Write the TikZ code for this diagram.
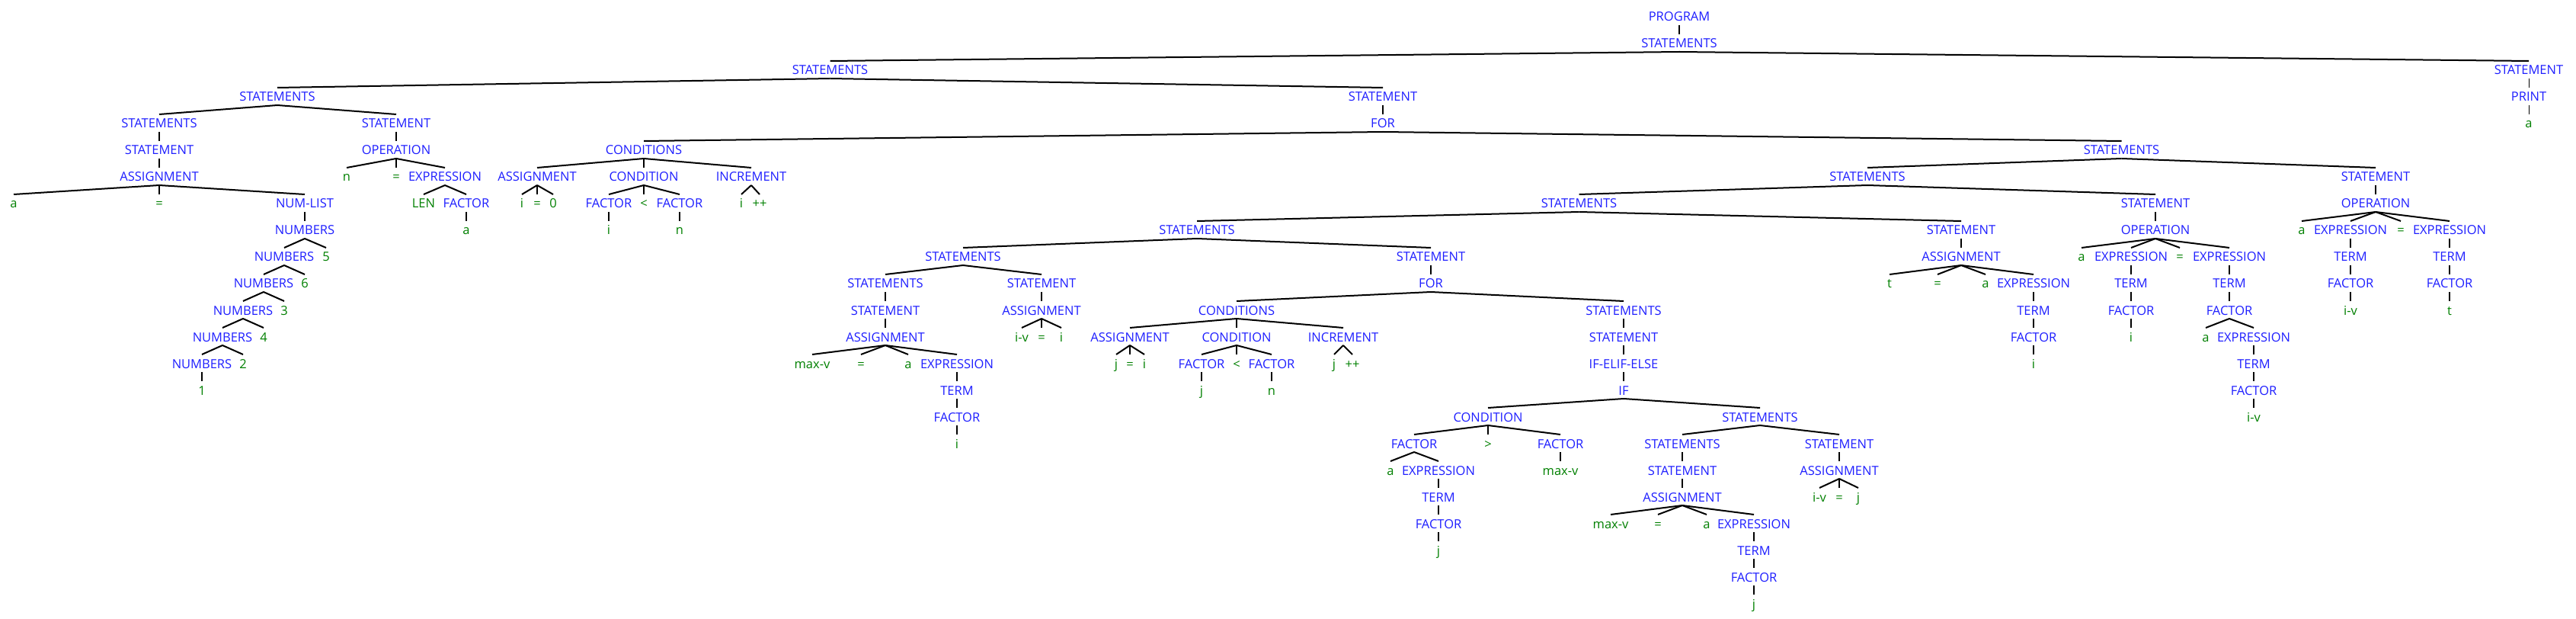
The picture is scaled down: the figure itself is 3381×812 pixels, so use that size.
\documentclass[tikz,border=0pt]{standalone}
\usepackage{fontspec}
\setmainfont{Open Sans}
\definecolor{ntc}{RGB}{30,30,255}
\definecolor{tmc}{RGB}{0,128,0}
\tikzset{
  lab/.style={inner sep=0pt, outer sep=0pt, anchor=base, text height=9pt, text depth=2.5pt, font=\fontsize{8.25pt}{10pt}\selectfont},
  nt/.style={lab, text=ntc},
  tm/.style={lab, text=tmc},
  edge/.style={line width=1pt, black},
  vedge/.style={line width=0.55pt, black}
}
\newcommand\PNT[4]{\node[nt] (#1) at (#2,{28+35*#3}) {#4};}
\newcommand\PTM[4]{\node[tm] (#1) at (#2,{28+35*#3}) {#4};}
\newcommand\EdgeS[2]{\draw[edge] (#1.south) -- (#2.north);}
\newcommand\EdgeV[2]{\draw[vedge] (#1.south) -- (#2.north);}
\begin{document}
\begin{tikzpicture}[x=0.5pt,y=-0.5pt]
\fill[white] (0,0) rectangle (3381,812);
\useasboundingbox (0,0) rectangle (3381,812);
% top
\PNT{prog}{2204}{0}{PROGRAM}
\PNT{s1}{2204}{1}{STATEMENTS}
\PNT{s2}{1089.5}{2}{STATEMENTS}
\PNT{pst}{3319}{2}{STATEMENT}
\PNT{ppr}{3319}{3}{PRINT}
\PTM{pa}{3319}{4}{a}
\PNT{s3}{364}{3}{STATEMENTS}
\PNT{for1st}{1815}{3}{STATEMENT}
\PNT{for1}{1815}{4}{FOR}
% left assignment
\PNT{s4}{209}{4}{STATEMENTS}
\PNT{st5}{209}{5}{STATEMENT}
\PNT{as6}{209}{6}{ASSIGNMENT}
\PTM{a7}{18}{7}{a}
\PTM{eq7}{209}{7}{=}
\PNT{nl7}{400}{7}{NUM-LIST}
\PNT{nb8}{400}{8}{NUMBERS}
\PNT{nb9}{373}{9}{NUMBERS}
\PTM{five}{428}{9}{5}
\PNT{nb10}{346}{10}{NUMBERS}
\PTM{six}{400}{10}{6}
\PNT{nb11}{319}{11}{NUMBERS}
\PTM{three}{373}{11}{3}
\PNT{nb12}{292}{12}{NUMBERS}
\PTM{four}{346}{12}{4}
\PNT{nb13}{265}{13}{NUMBERS}
\PTM{two}{319}{13}{2}
\PTM{one}{265}{14}{1}
% n = len a
\PNT{opst}{520}{4}{STATEMENT}
\PNT{op5}{520}{5}{OPERATION}
\PTM{n6}{455}{6}{n}
\PTM{eq6}{520}{6}{=}
\PNT{ex6}{584}{6}{EXPRESSION}
\PTM{len7}{556}{7}{LEN}
\PNT{fa7}{612}{7}{FACTOR}
\PTM{a8}{612}{8}{a}
% outer for conditions
\PNT{c5}{845}{5}{CONDITIONS}
\PNT{ca6}{705}{6}{ASSIGNMENT}
\PNT{cc6}{845}{6}{CONDITION}
\PNT{ci6}{986}{6}{INCREMENT}
\PTM{ci7}{685}{7}{i}
\PTM{ce7}{705}{7}{=}
\PTM{c07}{726}{7}{0}
\PNT{cf7}{799}{7}{FACTOR}
\PTM{clt7}{845}{7}{<}
\PNT{cf7b}{892}{7}{FACTOR}
\PTM{cii7}{973}{7}{i}
\PTM{cpp7}{997}{7}{++}
\PTM{cfi8}{799}{8}{i}
\PTM{cfn8}{892}{8}{n}
% outer for body
\PNT{b5}{2784.5}{5}{STATEMENTS}
\PNT{b6}{2451}{6}{STATEMENTS}
\PNT{c6st}{3118}{6}{STATEMENT}
\PNT{b7}{2072.5}{7}{STATEMENTS}
\PNT{d7st}{2829}{7}{STATEMENT}
\PNT{b8}{1571}{8}{STATEMENTS}
\PNT{e8st}{2574}{8}{STATEMENT}
\PNT{b9}{1264}{9}{STATEMENTS}
\PNT{f9st}{1878}{9}{STATEMENT}
\PNT{b10}{1162}{10}{STATEMENTS}
\PNT{g10st}{1367}{10}{STATEMENT}
\PNT{g11st}{1162}{11}{STATEMENT}
\PNT{g11as}{1367}{11}{ASSIGNMENT}
\PNT{h12as}{1162}{12}{ASSIGNMENT}
\PTM{iv12}{1341}{12}{i-v}
\PTM{eq12}{1367}{12}{=}
\PTM{i12}{1393}{12}{i}
\PTM{mv13}{1066}{13}{max-v}
\PTM{eq13}{1130}{13}{=}
\PTM{a13}{1192}{13}{a}
\PNT{ex13}{1256}{13}{EXPRESSION}
\PNT{te14}{1256}{14}{TERM}
\PNT{fa15}{1256}{15}{FACTOR}
\PTM{i16}{1256}{16}{i}
% inner for
\PNT{for10}{1878}{10}{FOR}
\PNT{k11}{1623}{11}{CONDITIONS}
\PNT{m11}{2131}{11}{STATEMENTS}
\PNT{ka12}{1483}{12}{ASSIGNMENT}
\PNT{kc12}{1623}{12}{CONDITION}
\PNT{ki12}{1763}{12}{INCREMENT}
\PTM{kj13}{1465}{13}{j}
\PTM{ke13}{1483}{13}{=}
\PTM{kii13}{1502}{13}{i}
\PNT{kf13}{1577}{13}{FACTOR}
\PTM{klt13}{1623}{13}{<}
\PNT{kf13b}{1669}{13}{FACTOR}
\PTM{kjj13}{1751}{13}{j}
\PTM{kpp13}{1775}{13}{++}
\PTM{kj14}{1577}{14}{j}
\PTM{kn14}{1669}{14}{n}
\PNT{m12}{2131}{12}{STATEMENT}
\PNT{m13}{2131}{13}{IF-ELIF-ELSE}
\PNT{m14}{2131}{14}{IF}
\PNT{q15}{1953}{15}{CONDITION}
\PNT{r15}{2310}{15}{STATEMENTS}
\PNT{qf16}{1856}{16}{FACTOR}
\PTM{qgt16}{1953}{16}{>}
\PNT{qf16b}{2048}{16}{FACTOR}
\PTM{qa17}{1825}{17}{a}
\PNT{qe17}{1888}{17}{EXPRESSION}
\PTM{qmv17}{2048}{17}{max-v}
\PNT{qt18}{1888}{18}{TERM}
\PNT{qf19}{1888}{19}{FACTOR}
\PTM{qj20}{1888}{20}{j}
\PNT{rs16}{2208}{16}{STATEMENTS}
\PNT{rt16}{2414}{16}{STATEMENT}
\PNT{rs17}{2208}{17}{STATEMENT}
\PNT{rta17}{2414}{17}{ASSIGNMENT}
\PNT{rs18}{2208}{18}{ASSIGNMENT}
\PTM{riv18}{2388}{18}{i-v}
\PTM{req18}{2414}{18}{=}
\PTM{rj18}{2439}{18}{j}
\PTM{rmv19}{2114}{19}{max-v}
\PTM{req19}{2176}{19}{=}
\PTM{ra19}{2240}{19}{a}
\PNT{rex19}{2302}{19}{EXPRESSION}
\PNT{rt20}{2302}{20}{TERM}
\PNT{rf21}{2302}{21}{FACTOR}
\PTM{rj22}{2302}{22}{j}
% t = a[i]
\PNT{e9}{2574}{9}{ASSIGNMENT}
\PTM{et10}{2480}{10}{t}
\PTM{ee10}{2543}{10}{=}
\PTM{ea10}{2606}{10}{a}
\PNT{ex10}{2669}{10}{EXPRESSION}
\PNT{et11}{2669}{11}{TERM}
\PNT{ef12}{2669}{12}{FACTOR}
\PTM{ei13}{2669}{13}{i}
% a[i] = a[i-v]
\PNT{d8}{2829}{8}{OPERATION}
\PTM{da9}{2732}{9}{a}
\PNT{dx9}{2797}{9}{EXPRESSION}
\PTM{de9}{2861}{9}{=}
\PNT{dy9}{2926}{9}{EXPRESSION}
\PNT{dt10}{2797}{10}{TERM}
\PNT{df11}{2797}{11}{FACTOR}
\PTM{di12}{2797}{12}{i}
\PNT{dt10b}{2926}{10}{TERM}
\PNT{df11b}{2926}{11}{FACTOR}
\PTM{da12}{2895}{12}{a}
\PNT{dz12}{2958}{12}{EXPRESSION}
\PNT{dt13}{2958}{13}{TERM}
\PNT{df14}{2958}{14}{FACTOR}
\PTM{div15}{2958}{15}{i-v}
% a[i-v] = t
\PNT{c7}{3118}{7}{OPERATION}
\PTM{ca8}{3021}{8}{a}
\PNT{cx8}{3085}{8}{EXPRESSION}
\PTM{ce8}{3151}{8}{=}
\PNT{cy8}{3215}{8}{EXPRESSION}
\PNT{ct9}{3085}{9}{TERM}
\PNT{cf10}{3085}{10}{FACTOR}
\PTM{civ11}{3085}{11}{i-v}
\PNT{ct9b}{3215}{9}{TERM}
\PNT{cf10b}{3215}{10}{FACTOR}
\PTM{ctt11}{3215}{11}{t}
% edges
\EdgeV{prog}{s1}
\EdgeS{s1}{s2}\EdgeS{s1}{pst}
\EdgeV{pst}{ppr}\EdgeV{ppr}{pa}
\EdgeS{s2}{s3}\EdgeS{s2}{for1st}
\EdgeV{for1st}{for1}
\EdgeS{s3}{s4}\EdgeS{s3}{opst}
\EdgeV{s4}{st5}\EdgeV{st5}{as6}
\EdgeS{as6}{a7}\EdgeV{as6}{eq7}\EdgeS{as6}{nl7}
\EdgeV{nl7}{nb8}
\EdgeS{nb8}{nb9}\EdgeS{nb8}{five}
\EdgeS{nb9}{nb10}\EdgeS{nb9}{six}
\EdgeS{nb10}{nb11}\EdgeS{nb10}{three}
\EdgeS{nb11}{nb12}\EdgeS{nb11}{four}
\EdgeS{nb12}{nb13}\EdgeS{nb12}{two}
\EdgeV{nb13}{one}
\EdgeV{opst}{op5}
\EdgeS{op5}{n6}\EdgeV{op5}{eq6}\EdgeS{op5}{ex6}
\EdgeS{ex6}{len7}\EdgeS{ex6}{fa7}
\EdgeV{fa7}{a8}
\EdgeS{for1}{c5}\EdgeS{for1}{b5}
\EdgeS{c5}{ca6}\EdgeV{c5}{cc6}\EdgeS{c5}{ci6}
\EdgeS{ca6}{ci7}\EdgeV{ca6}{ce7}\EdgeS{ca6}{c07}
\EdgeS{cc6}{cf7}\EdgeV{cc6}{clt7}\EdgeS{cc6}{cf7b}
\EdgeS{ci6}{cii7}\EdgeS{ci6}{cpp7}
\EdgeV{cf7}{cfi8}\EdgeV{cf7b}{cfn8}
\EdgeS{b5}{b6}\EdgeS{b5}{c6st}
\EdgeS{b6}{b7}\EdgeS{b6}{d7st}
\EdgeS{b7}{b8}\EdgeS{b7}{e8st}
\EdgeS{b8}{b9}\EdgeS{b8}{f9st}
\EdgeS{b9}{b10}\EdgeS{b9}{g10st}
\EdgeV{b10}{g11st}\EdgeV{g10st}{g11as}
\EdgeV{g11st}{h12as}
\EdgeS{g11as}{iv12}\EdgeV{g11as}{eq12}\EdgeS{g11as}{i12}
\EdgeS{h12as}{mv13}\EdgeS{h12as}{eq13}\EdgeS{h12as}{a13}\EdgeS{h12as}{ex13}
\EdgeV{ex13}{te14}\EdgeV{te14}{fa15}\EdgeV{fa15}{i16}
\EdgeV{f9st}{for10}
\EdgeS{for10}{k11}\EdgeS{for10}{m11}
\EdgeS{k11}{ka12}\EdgeV{k11}{kc12}\EdgeS{k11}{ki12}
\EdgeS{ka12}{kj13}\EdgeV{ka12}{ke13}\EdgeS{ka12}{kii13}
\EdgeS{kc12}{kf13}\EdgeV{kc12}{klt13}\EdgeS{kc12}{kf13b}
\EdgeS{ki12}{kjj13}\EdgeS{ki12}{kpp13}
\EdgeV{kf13}{kj14}\EdgeV{kf13b}{kn14}
\EdgeV{m11}{m12}\EdgeV{m12}{m13}\EdgeV{m13}{m14}
\EdgeS{m14}{q15}\EdgeS{m14}{r15}
\EdgeS{q15}{qf16}\EdgeV{q15}{qgt16}\EdgeS{q15}{qf16b}
\EdgeS{qf16}{qa17}\EdgeS{qf16}{qe17}
\EdgeV{qf16b}{qmv17}
\EdgeV{qe17}{qt18}\EdgeV{qt18}{qf19}\EdgeV{qf19}{qj20}
\EdgeS{r15}{rs16}\EdgeS{r15}{rt16}
\EdgeV{rs16}{rs17}\EdgeV{rs17}{rs18}
\EdgeV{rt16}{rta17}
\EdgeS{rta17}{riv18}\EdgeV{rta17}{req18}\EdgeS{rta17}{rj18}
\EdgeS{rs18}{rmv19}\EdgeS{rs18}{req19}\EdgeS{rs18}{ra19}\EdgeS{rs18}{rex19}
\EdgeV{rex19}{rt20}\EdgeV{rt20}{rf21}\EdgeV{rf21}{rj22}
\EdgeV{e8st}{e9}
\EdgeS{e9}{et10}\EdgeS{e9}{ee10}\EdgeS{e9}{ea10}\EdgeS{e9}{ex10}
\EdgeV{ex10}{et11}\EdgeV{et11}{ef12}\EdgeV{ef12}{ei13}
\EdgeV{d7st}{d8}
\EdgeS{d8}{da9}\EdgeS{d8}{dx9}\EdgeS{d8}{de9}\EdgeS{d8}{dy9}
\EdgeV{dx9}{dt10}\EdgeV{dt10}{df11}\EdgeV{df11}{di12}
\EdgeV{dy9}{dt10b}\EdgeV{dt10b}{df11b}
\EdgeS{df11b}{da12}\EdgeS{df11b}{dz12}
\EdgeV{dz12}{dt13}\EdgeV{dt13}{df14}\EdgeV{df14}{div15}
\EdgeV{c6st}{c7}
\EdgeS{c7}{ca8}\EdgeS{c7}{cx8}\EdgeS{c7}{ce8}\EdgeS{c7}{cy8}
\EdgeV{cx8}{ct9}\EdgeV{ct9}{cf10}\EdgeV{cf10}{civ11}
\EdgeV{cy8}{ct9b}\EdgeV{ct9b}{cf10b}\EdgeV{cf10b}{ctt11}
\end{tikzpicture}
\end{document}
